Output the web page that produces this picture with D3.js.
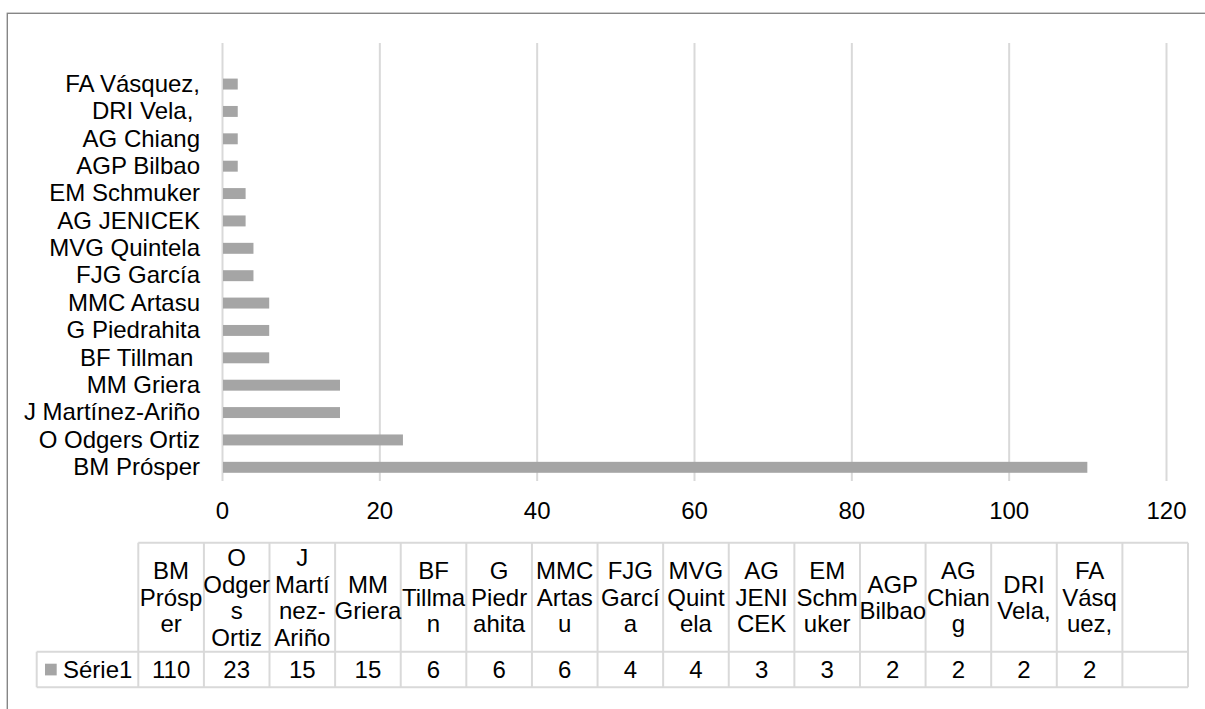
<!DOCTYPE html>
<html>
<head>
<meta charset="utf-8">
<script src="https://cdn.jsdelivr.net/npm/d3@7"></script>
<style>
  html, body { margin: 0; padding: 0; background: #fff; }
  svg { display: block; font-family: "Liberation Sans", Arial, sans-serif; }
  text { white-space: pre; }
</style>
</head>
<body>
<svg id="chart" width="1205" height="709"></svg>
<script>
// ---- data ----
const categories = ["BM Prósper", "O Odgers Ortiz", "J Martínez-Ariño", "MM Griera", "BF Tillman ",
  "G Piedrahita", "MMC Artasu", "FJG García", "MVG Quintela", "AG JENICEK", "EM Schmuker",
  "AGP Bilbao", "AG Chiang", "DRI Vela, ", "FA Vásquez,", ""];
const values = [110, 23, 15, 15, 6, 6, 6, 4, 4, 3, 3, 2, 2, 2, 2, null];
const seriesName = "Série1";
const xTicks = [0, 20, 40, 60, 80, 100, 120];
const tableHeaderLines = [
  ["BM", "Prósp", "er"], ["O", "Odger", "s", "Ortiz"], ["J", "Martí", "nez-", "Ariño"],
  ["MM", "Griera"], ["BF", "Tillma", "n"], ["G", "Piedr", "ahita"], ["MMC", "Artas", "u"],
  ["FJG", "Garcí", "a"], ["MVG", "Quint", "ela"], ["AG", "JENI", "CEK"], ["EM", "Schm", "uker"],
  ["AGP", "Bilbao"], ["AG", "Chian", "g"], ["DRI", "Vela,"], ["FA", "Vásq", "uez,"], []
];

// ---- layout ----
const FS = 24;
const plot = { left: 222, right: 1166, top: 43, bottom: 481 };
const table = { left: 138.3, right: 1188, legendLeft: 36.7, top: 542.7, mid: 651.7, bottom: 687.3 };
const barColor = "#a5a5a5";
const gridColor = "#d9d9d9";

const svg = d3.select("#chart");

// outer frame (extends past the image on right/bottom)
svg.append("rect")
  .attr("x", 7.3).attr("y", 13.3)
  .attr("width", 1400).attr("height", 900)
  .attr("fill", "none").attr("stroke", "#868686").attr("stroke-width", 1.4);

const x = d3.scaleLinear().domain([0, 120]).range([plot.left, plot.right]);
const y = d3.scaleBand().domain(categories)
  .range([plot.bottom, plot.top]).paddingInner(0.6).paddingOuter(0.3);

// gridlines + x tick labels
const xAxis = svg.append("g")
  .attr("transform", `translate(0,${plot.bottom})`)
  .call(d3.axisBottom(x).tickValues(xTicks).tickSize(-(plot.bottom - plot.top)).tickPadding(21).tickFormat(d3.format("d")));
xAxis.select(".domain").remove();
xAxis.selectAll(".tick line").attr("stroke", gridColor).attr("stroke-width", 2);
xAxis.selectAll(".tick text").attr("fill", "#000").attr("font-size", FS)
  .attr("font-family", "Liberation Sans, Arial, sans-serif");

// y labels
const yAxis = svg.append("g")
  .attr("transform", `translate(${plot.left},0)`)
  .call(d3.axisLeft(y).tickSize(0).tickPadding(22));
yAxis.select(".domain").remove();
yAxis.selectAll(".tick text").attr("fill", "#000").attr("font-size", FS)
  .attr("font-family", "Liberation Sans, Arial, sans-serif");

// bars
svg.append("g").selectAll("rect")
  .data(categories.map((c, i) => ({ c, v: values[i] })).filter(d => d.v != null))
  .join("rect")
  .attr("x", x(0) + 1)
  .attr("y", d => y(d.c))
  .attr("width", d => x(d.v) - x(0) - 1)
  .attr("height", y.bandwidth())
  .attr("fill", barColor);

// ---- data table ----
const col = d3.scaleBand().domain(categories.map((c, i) => i)).range([table.left, table.right]);
const tg = svg.append("g").attr("font-size", FS).attr("fill", "#000");
function hline(x1, x2, yy) {
  tg.append("line").attr("x1", x1).attr("x2", x2).attr("y1", yy).attr("y2", yy)
    .attr("stroke", gridColor).attr("stroke-width", 2);
}
function vline(xx, y1, y2) {
  tg.append("line").attr("x1", xx).attr("x2", xx).attr("y1", y1).attr("y2", y2)
    .attr("stroke", gridColor).attr("stroke-width", 2);
}
hline(table.left, table.right, table.top);
hline(table.legendLeft, table.right, table.mid);
hline(table.legendLeft, table.right, table.bottom);
vline(table.legendLeft, table.mid, table.bottom);
categories.forEach((c, i) => vline(col(i), table.top, table.bottom));
vline(table.right, table.top, table.bottom);

const headerCenter = (table.top + table.mid) / 2;
const lineH = 26.5;
categories.forEach((c, i) => {
  const lines = tableHeaderLines[i];
  const n = lines.length;
  const cx = col(i) + col.bandwidth() / 2;
  lines.forEach((t, k) => {
    tg.append("text")
      .attr("x", cx)
      .attr("y", headerCenter + (k - (n - 1) / 2) * lineH)
      .attr("dy", "0.36em")
      .attr("text-anchor", "middle")
      .text(t);
  });
  if (values[i] != null) {
    tg.append("text")
      .attr("x", cx)
      .attr("y", (table.mid + table.bottom) / 2)
      .attr("dy", "0.36em")
      .attr("text-anchor", "middle")
      .text(values[i]);
  }
});

// legend key in table
const rowMid = (table.mid + table.bottom) / 2;
tg.append("rect").attr("x", 45).attr("y", rowMid - 5.8).attr("width", 11.7).attr("height", 11.7).attr("fill", barColor);
tg.append("text").attr("x", 63).attr("y", rowMid).attr("dy", "0.36em").text(seriesName);
</script>
</body>
</html>
